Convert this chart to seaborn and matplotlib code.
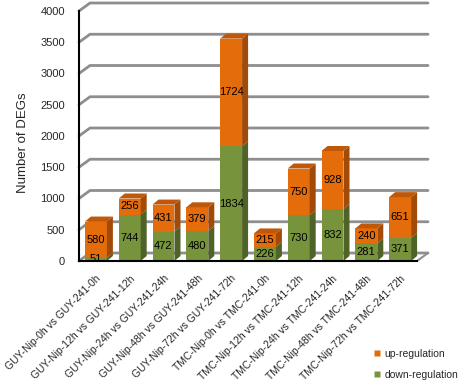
import matplotlib
matplotlib.use("Agg")
import matplotlib.pyplot as plt
import seaborn as sns
import numpy as np
import pandas as pd
from matplotlib.patches import Polygon
from matplotlib.lines import Line2D

categories = [
    "GUY-Nip-0h vs GUY-241-0h",
    "GUY-Nip-12h vs GUY-241-12h",
    "GUY-Nip-24h vs GUY-241-24h",
    "GUY-Nip-48h vs GUY-241-48h",
    "GUY-Nip-72h vs GUY-241-72h",
    "TMC-Nip-0h vs TMC-241-0h",
    "TMC-Nip-12h vs TMC-241-12h",
    "TMC-Nip-24h vs TMC-241-24h",
    "TMC-Nip-48h vs TMC-241-48h",
    "TMC-Nip-72h vs TMC-241-72h",
]
up_regulation = [580, 256, 431, 379, 1724, 215, 750, 928, 240, 651]
down_regulation = [51, 744, 472, 480, 1834, 226, 730, 832, 281, 371]
y_ticks = [0, 500, 1000, 1500, 2000, 2500, 3000, 3500, 4000]

sns.set_style("white")
plt.rcParams["font.family"] = ["Liberation Sans", "DejaVu Sans"]

ORANGE = "#E46C0A"
ORANGE_SIDE = "#A24A08"
ORANGE_TOP = "#C0580A"
GREEN = "#77933C"
GREEN_SIDE = "#4F6228"
GRID = "#8E8E8E"

df = pd.DataFrame({"cat": categories,
                   "up": up_regulation,
                   "down": down_regulation})
df["total"] = df["up"] + df["down"]

W, H = 459, 383
fig = plt.figure(figsize=(W / 100, H / 100), dpi=100)
ax_l, ax_r, ax_t, ax_b = 79, 417, 11, 261
rect = [ax_l / W, 1 - ax_b / H, (ax_r - ax_l) / W, (ax_b - ax_t) / H]
n = len(categories)

# background axes carrying the pseudo-3D back wall grid
bg = fig.add_axes(rect, zorder=0)
bg.set_xlim(-0.5, n - 0.5)
bg.set_ylim(0, 4000)
bg.axis("off")

ax = fig.add_axes(rect, zorder=1)
ax.patch.set_alpha(0)

bw = 0.65
sns.barplot(data=df, x="cat", y="total", color=ORANGE, saturation=1,
            width=bw, edgecolor="none", linewidth=0, ax=ax, zorder=3)
sns.barplot(data=df, x="cat", y="down", color=GREEN, saturation=1,
            width=bw, edgecolor="none", linewidth=0, ax=ax, zorder=3)

ax.set_xlim(-0.5, n - 0.5)
ax.set_ylim(0, 4000)

# pixel -> data unit conversions
px_x = n / (ax_r - ax_l)
px_y = 4000 / (ax_b - ax_t)

Dx, Dy = 11 * px_x, 8 * px_y
x_lo, x_hi = -0.5, n - 0.5
for v in y_ticks:
    bg.plot([x_lo, x_lo + Dx, x_hi + Dx], [v, v + Dy, v + Dy],
            color=GRID, lw=2.0, zorder=1, clip_on=False)
bg.plot([x_hi, x_hi + Dx], [0, Dy], color=GRID, lw=1.5, zorder=1, clip_on=False)

# bar depth faces
dx, dy = 6 * px_x, 5 * px_y
bars = ax.patches[:n]
for i, p in enumerate(bars):
    x0 = p.get_x()
    x1 = x0 + p.get_width()
    dn = down_regulation[i]
    tot = dn + up_regulation[i]
    ax.add_patch(Polygon([(x1, 0), (x1, dn), (x1 + dx, dn + dy), (x1 + dx, dy)],
                         closed=True, facecolor=GREEN_SIDE, edgecolor="none",
                         zorder=3, clip_on=False))
    ax.add_patch(Polygon([(x1, dn), (x1, tot), (x1 + dx, tot + dy), (x1 + dx, dn + dy)],
                         closed=True, facecolor=ORANGE_SIDE, edgecolor="none",
                         zorder=3, clip_on=False))
    ax.add_patch(Polygon([(x0, tot), (x1, tot), (x1 + dx, tot + dy), (x0 + dx, tot + dy)],
                         closed=True, facecolor=ORANGE_TOP, edgecolor="none",
                         zorder=3, clip_on=False))
    xc = x0 + p.get_width() / 2
    ax.text(xc, dn / 2, str(dn), ha="center", va="center", fontsize=8,
            color="black", zorder=5)
    ax.text(xc, dn + up_regulation[i] / 2, str(up_regulation[i]), ha="center",
            va="center", fontsize=8, color="black", zorder=5)

# axes styling
for s in ["top", "right"]:
    ax.spines[s].set_visible(False)
for s in ["left", "bottom"]:
    ax.spines[s].set_color("black")
    ax.spines[s].set_linewidth(1.5)
    ax.spines[s].set_zorder(4)

ax.set_yticks(y_ticks)
ax.set_yticklabels([str(v) for v in y_ticks], fontsize=8)
ax.tick_params(axis="y", length=3, width=1, direction="out", pad=7)
ax.set_xticks(range(n))
ax.set_xticklabels(categories, rotation=45, ha="right",
                   rotation_mode="anchor", fontsize=7.5)
ax.tick_params(axis="x", which="major", length=0, pad=9)
ax.set_xticks(np.arange(-0.5, n, 1.0), minor=True)
ax.tick_params(axis="x", which="minor", length=3, width=1, direction="out")
ax.set_xlabel("")
ax.set_ylabel("")
fig.text(23 / W, 1 - 143 / H, "Number of DEGs", rotation=90, ha="center",
         va="center", fontsize=9.5)

handles = [Line2D([0], [0], marker="s", linestyle="none", markersize=4.5,
                  markerfacecolor=ORANGE, markeredgecolor="none"),
           Line2D([0], [0], marker="s", linestyle="none", markersize=4.5,
                  markerfacecolor=GREEN, markeredgecolor="none")]
fig.legend(handles, ["up-regulation", "down-regulation"], loc="upper left",
           bbox_to_anchor=(374 / W, 1 - 349 / H), frameon=False, fontsize=7.5,
           handlelength=0.6, handletextpad=0.4, labelspacing=1.05,
           borderpad=0, borderaxespad=0)

fig.savefig("out.png", dpi=100)
